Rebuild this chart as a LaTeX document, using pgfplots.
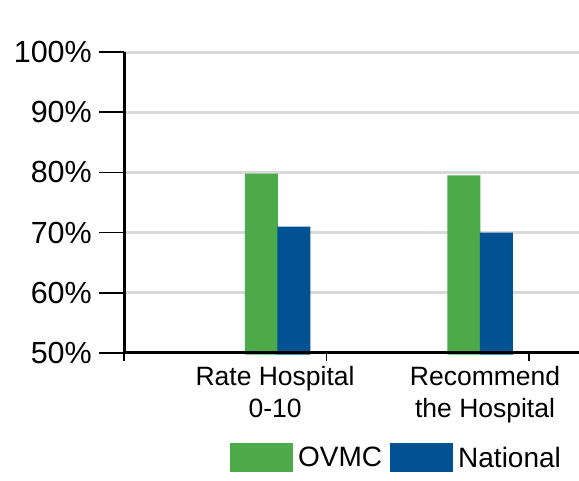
\documentclass[border=0pt]{standalone}
\usepackage{fontspec}
\setmainfont{Liberation Sans}
\usepackage{pgfplots}
\pgfplotsset{compat=1.18}
\definecolor{ovmc}{RGB}{77,170,72}
\definecolor{natl}{RGB}{0,82,147}
\definecolor{gridgray}{RGB}{217,217,217}
\pgfplotsset{boxlegend/.style={legend image code/.code={\fill[##1,draw=none] (0bp,-14bp) rectangle (63bp,15bp);}}}
\begin{document}
\begin{tikzpicture}
\useasboundingbox (0,0) rectangle (579bp,481bp);
% x tick marks (8bp, outside)
\begin{axis}[
  at={(124bp,128bp)}, anchor=south west,
  scale only axis, width=455bp, height=301bp,
  xmin=0, xmax=2.247, ymin=50, ymax=100,
  axis x line*=bottom, hide y axis,
  x axis line style={draw=none},
  xtick={0,1,2}, xticklabels={},
  tick style={black, line width=1.5bp},
  tick align=outside,
  major tick length=8bp,
]
\end{axis}
% main chart
\begin{axis}[
  at={(99bp,126.5bp)}, anchor=south west,
  scale only axis, width=480bp, height=304bp,
  xmin=-0.12346, xmax=2.247, ymin=49.75, ymax=100.25,
  axis line style={draw=none},
  ytick={50,60,...,100},
  yticklabels={50\%,60\%,70\%,80\%,90\%,100\%},
  xtick={0.746,1.783},
  xticklabels={{Rate Hospital\\0-10},{Recommend\\the Hospital}},
  tick style={draw=none},
  major tick length=0pt,
  xticklabel style={align=center, font=\fontsize{26.5bp}{32bp}\selectfont, yshift=-8.5bp},
  yticklabel style={font=\fontsize{30.5bp}{36bp}\selectfont, inner sep=0pt, xshift=-7bp},
  unbounded coords=jump,
  legend columns=2,
  legend style={at={(0.2729,-0.3865)}, anchor=south west, draw=none, fill=none,
    inner sep=0pt, font=\fontsize{28bp}{32bp}\selectfont,
    nodes={inner sep=0pt},
    /tikz/every odd column/.append style={column sep=5bp},
    /tikz/every even column/.append style={column sep=8bp}},
]
% horizontal grid lines
\addplot[forget plot, gridgray, line width=3bp, mark=none] coordinates {
  (0,60) (2.247,60) (nan,nan)
  (0,70) (2.247,70) (nan,nan)
  (0,80) (2.247,80) (nan,nan)
  (0,90) (2.247,90) (nan,nan)
  (0,100) (2.247,100)};
% bars
\addplot[ybar, bar width=33bp, bar shift=0pt, fill=ovmc, draw=none, boxlegend] coordinates {(0.679,79.8) (1.679,79.5)};
\addlegendentry{OVMC}
\addplot[ybar, bar width=33bp, bar shift=0pt, fill=natl, draw=none, boxlegend] coordinates {(0.839,71.0) (1.839,70.0)};
\addlegendentry{National}
% y tick marks (25bp, left of the axis)
\addplot[forget plot, black, line width=1.5bp, mark=none] coordinates {
  (-0.12346,50) (0,50) (nan,nan)
  (-0.12346,60) (0,60) (nan,nan)
  (-0.12346,70) (0,70) (nan,nan)
  (-0.12346,80) (0,80) (nan,nan)
  (-0.12346,90) (0,90) (nan,nan)
  (-0.12346,100) (0,100)};
% axis lines
\addplot[forget plot, black, line width=3bp, mark=none] coordinates {(0,100) (0,50) (2.247,50)};
\end{axis}
\end{tikzpicture}
\end{document}
